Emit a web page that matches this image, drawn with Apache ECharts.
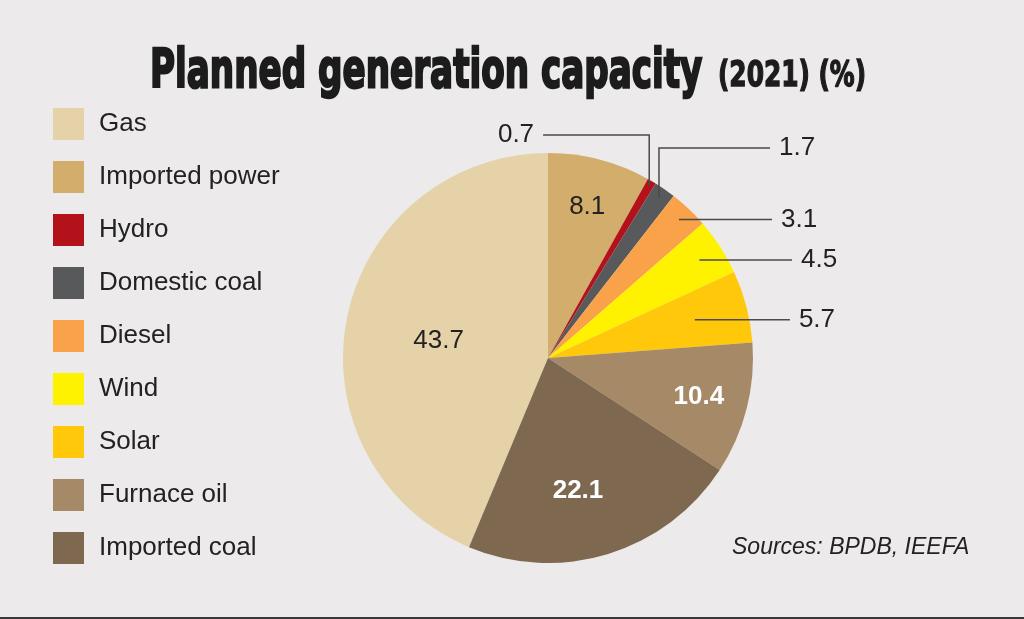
<!DOCTYPE html>
<html><head><meta charset="utf-8">
<script src="https://cdn.jsdelivr.net/npm/echarts@6/dist/echarts.min.js"></script>
<style>html,body{margin:0;padding:0;background:#ECEAEB;} #c{width:1024px;height:619px;}</style>
</head><body><div id="c"></div>
<script>
// ---- data ----
const categories = ['Gas','Imported power','Hydro','Domestic coal','Diesel','Wind','Solar','Furnace oil','Imported coal'];
const shares = [43.7, 8.1, 0.7, 1.7, 3.1, 4.5, 5.7, 10.4, 22.1];
const titleMain = 'Planned generation capacity';
const titleSub = '(2021) (%)';
const sourceText = 'Sources: BPDB, IEEFA';

// ---- styles / layout ----
const colors = ['#E6D2A9','#D3AD6B','#B3121A','#58595B','#F9A24A','#FFF200','#FFC80B','#A68A67','#7E6950'];
const CX = 548, CY = 358, R = 205;
const FONT = '"Liberation Sans", Arial, sans-serif';
// label placement plan (layout only)
const labelPlan = [
  {kind:'in', frac:0.54, da:-2.4, color:'#222', bold:false},
  {kind:'in', frac:0.76, da:0, color:'#222', bold:false},
  {kind:'out', frac:0.975, rise:-1.088, endX:-0.024, side:'left'},
  {kind:'out', frac:0.95, rise:-1.024, endX:1.083, side:'right'},
  {kind:'out', frac:0.93, endX:1.093, side:'right'},
  {kind:'out', frac:0.88, endX:1.19, side:'right'},
  {kind:'out', frac:0.74, endX:1.18, side:'right'},
  {kind:'in', frac:0.76, da:0, color:'#fff', bold:true},
  {kind:'in', frac:0.665, da:4.4, color:'#fff', bold:true}
];

const total = shares.reduce((a,b)=>a+b,0);
const startAngle = 90 + shares[0]/total*360;
function midAngleDeg(i){
  let cum = 0; for (let k=0;k<i;k++) cum += shares[k];
  return startAngle - (cum + shares[i]/2)/total*360;
}
function pointAt(i, frac, da){
  const a = (midAngleDeg(i) - (da||0)) * Math.PI/180;
  return [CX + Math.cos(a)*R*frac, CY - Math.sin(a)*R*frac];
}

// main series: coloured slices + inside labels
const dataMain = categories.map((n,i)=>{
  const p = labelPlan[i];
  return {
    name: n, value: shares[i],
    itemStyle: {color: colors[i]},
    label: {
      show: p.kind === 'in', position: 'inside',
      color: p.color || '#222',
      fontWeight: p.bold ? 'bold' : 'normal'
    },
    labelLine: {show: false}
  };
});
// overlay series: transparent slices carrying outside labels and leader lines (drawn on top)
const dataOver = categories.map((n,i)=>{
  const p = labelPlan[i];
  return {
    name: n, value: shares[i],
    itemStyle: {color: 'rgba(0,0,0,0)'},
    label: {show: p.kind === 'out', position: 'outside', color: '#222'},
    labelLine: {show: p.kind === 'out'}
  };
});

function layoutFn(params) {
  const i = params.dataIndex;
  const p = labelPlan[i];
  if (p.kind === 'in') {
    const q = pointAt(i, p.frac, p.da);
    return {x: q[0], y: q[1], align: 'center', verticalAlign: 'middle'};
  }
  const p0 = pointAt(i, p.frac, 0);
  let pts;
  if (p.rise != null) {
    const p1 = [p0[0], CY + p.rise*R];
    const p2 = [CX + p.endX*R, p1[1]];
    pts = [p0, p1, p2];
  } else {
    const p2 = [CX + p.endX*R, p0[1]];
    pts = [p0, [(p0[0]+p2[0])/2, p0[1]], p2];
  }
  const end = pts[2];
  const gap = 9;
  return {
    x: p.side === 'left' ? end[0] - gap : end[0] + gap,
    y: end[1],
    align: p.side === 'left' ? 'right' : 'left',
    verticalAlign: 'middle',
    labelLinePoints: pts
  };
}

const baseSeries = {
  type: 'pie',
  center: [CX, CY], radius: R,
  startAngle: startAngle, clockwise: true,
  avoidLabelOverlap: false,
  silent: true,
  legendHoverLink: false,
  label: {show: true, formatter: '{c}', fontSize: 26, fontFamily: FONT, color:'#222'},
  labelLine: {show: true, length: 10, length2: 10, lineStyle: {color:'#4a4a4a', width:1.5}},
  itemStyle: {borderWidth: 0},
  emphasis: {disabled: true},
  labelLayout: layoutFn
};

const chart = echarts.init(document.getElementById('c'), null, {renderer:'canvas'});
chart.setOption({
  backgroundColor: '#ECEAEB',
  animation: false,
  legend: {
    orient: 'vertical', left: 53, top: 108, padding: 0,
    itemWidth: 31, itemHeight: 32, itemGap: 21,
    icon: 'rect', selectedMode: false,
    textStyle: {fontSize: 26, color: '#222', fontFamily: FONT, padding:[0,0,0,10]},
    data: categories
  },
  graphic: [
    {type:'text', x:150, y:73, scaleX:0.633,
     style:{text:titleMain, font:'bold 54px "DejaVu Sans"', fill:'#1c1c1c', stroke:'#1c1c1c', lineWidth:2.5, verticalAlign:'middle'}},
    {type:'text', x:718, y:77, scaleX:0.69,
     style:{text:titleSub, font:'bold 36px "DejaVu Sans"', fill:'#1c1c1c', stroke:'#1c1c1c', lineWidth:1.5, verticalAlign:'middle'}},
    {type:'text', x:732, y:548,
     style:{text:sourceText, font:'italic 23px "Liberation Sans"', fill:'#222', verticalAlign:'middle'}},
    {type:'rect', shape:{x:0, y:617, width:1024, height:2}, style:{fill:'#3a3a3a'}}
  ],
  series: [
    Object.assign({}, baseSeries, {name:'main', z:2, data: dataMain}),
    Object.assign({}, baseSeries, {name:'overlay', z:3, data: dataOver})
  ]
});
</script>
</body></html>
